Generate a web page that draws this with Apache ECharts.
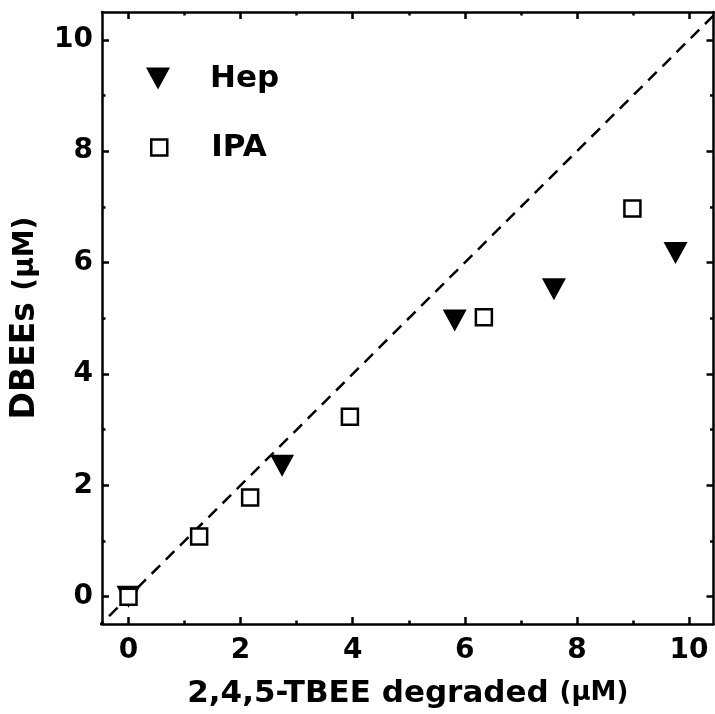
<!DOCTYPE html>
<html>
<head>
<meta charset="utf-8">
<script src="https://cdn.jsdelivr.net/npm/echarts@6/dist/echarts.min.js"></script>
<style>html,body{margin:0;padding:0;background:#fff}#c{width:715px;height:714px}</style>
</head>
<body>
<div id="c"></div>
<script>
// Data
const hepX = [0, 2.74, 5.82, 7.59, 9.76];
const hepY = [0, 2.35, 4.96, 5.52, 6.17];
const ipaX = [0, 1.26, 2.17, 3.95, 6.34, 8.99];
const ipaY = [0, 1.08, 1.78, 3.23, 5.02, 6.97];
const refLineX = [-0.6, 10.6];
const refLineY = [-0.6, 10.6];
const majorTicks = [0, 2, 4, 6, 8, 10];
const minorTicks = [1, 3, 5, 7, 9];
const seriesNames = ['Hep', 'IPA'];
const xTitle = '2,4,5-TBEE degraded ';
const yTitle = 'DBEEs ';
const unit = '(\u03bcM)';

const FONT = '"DejaVu Sans", "Liberation Sans", Arial, sans-serif';
const X_MIN = -0.473, X_MAX = 10.437, Y_MIN = -0.49, Y_MAX = 10.5;
const downTri = 'path://M0,0 L24,0 L12,22 Z';

function mkAxis(isX, pos, ticks, len, showLine, showLabel, name) {
  const a = {
    type: 'value', position: pos,
    min: isX ? X_MIN : Y_MIN, max: isX ? X_MAX : Y_MAX,
    splitLine: { show: false },
    axisLine: { show: showLine, onZero: false, lineStyle: { color: '#000', width: 2.5 } },
    axisTick: { show: true, inside: true, length: len, customValues: ticks, lineStyle: { color: '#000', width: 2.5 } },
    axisLabel: { show: showLabel, customValues: ticks, margin: isX ? 13 : 9,
      fontFamily: FONT, fontWeight: 'bold', fontSize: 28, color: '#000' }
  };
  if (name) {
    const big = isX ? 31 : 33, small = isX ? 26 : 28;
    a.name = name;
    a.nameLocation = 'middle';
    a.nameGap = isX ? 54 : 60;
    a.nameTextStyle = {
      rich: {
        m: { fontFamily: FONT, fontWeight: 'bold', fontSize: big, color: '#000' },
        u: { fontFamily: FONT, fontWeight: 'bold', fontSize: small, color: '#000' }
      }
    };
  }
  return a;
}

const legendText = { fontFamily: FONT, fontWeight: 'bold', fontSize: 31, color: '#000' };

const chart = echarts.init(document.getElementById('c'), null, { renderer: 'canvas' });
chart.setOption({
  animation: false,
  backgroundColor: '#fff',
  grid: { left: 102, top: 12, right: 1.5, bottom: 88, containLabel: false },
  xAxis: [
    mkAxis(true, 'bottom', majorTicks, 7, true, true, '{m|' + xTitle + '}{u|' + unit + '}'),
    mkAxis(true, 'bottom', minorTicks, 3.5, false, false),
    mkAxis(true, 'top', majorTicks, 7, true, false),
    mkAxis(true, 'top', minorTicks, 3.5, false, false)
  ],
  yAxis: [
    mkAxis(false, 'left', majorTicks, 7, true, true, '{m|' + yTitle + '}{u|' + unit + '}'),
    mkAxis(false, 'left', minorTicks, 3.5, false, false),
    mkAxis(false, 'right', majorTicks, 7, true, false),
    mkAxis(false, 'right', minorTicks, 3.5, false, false)
  ],
  legend: [
    {
      left: 146, top: 63, padding: 0, itemWidth: 24, itemHeight: 22,
      textStyle: Object.assign({ padding: [0, 0, 0, 35] }, legendText),
      data: [{ name: seriesNames[0], icon: downTri, itemStyle: { color: '#000', opacity: 1 } }]
    },
    {
      left: 150, top: 132, padding: 0, itemWidth: 16, itemHeight: 16,
      textStyle: Object.assign({ padding: [0, 0, 0, 39] }, legendText),
      data: [{ name: seriesNames[1], icon: 'rect', itemStyle: { color: '#fff', borderColor: '#000', borderWidth: 2.5, opacity: 1 } }]
    }
  ],
  series: [
    {
      name: 'ref', type: 'line', xAxisIndex: 0, yAxisIndex: 0,
      data: refLineX.map((x, i) => [x, refLineY[i]]),
      showSymbol: false, symbol: 'none', clip: true, z: 1,
      lineStyle: { color: '#000', width: 2.5, type: [12, 8] }
    },
    {
      name: seriesNames[0], type: 'scatter', xAxisIndex: 0, yAxisIndex: 0,
      data: hepX.map((x, i) => [x, hepY[i]]),
      symbol: downTri, symbolSize: [24, 22], z: 3,
      itemStyle: { color: '#000', opacity: 1 }
    },
    {
      name: seriesNames[1], type: 'scatter', xAxisIndex: 0, yAxisIndex: 0,
      data: ipaX.map((x, i) => [x, ipaY[i]]),
      symbol: 'rect', symbolSize: 16, z: 4,
      itemStyle: { color: '#fff', borderColor: '#000', borderWidth: 2.5, opacity: 1 }
    }
  ]
});
</script>
</body>
</html>
